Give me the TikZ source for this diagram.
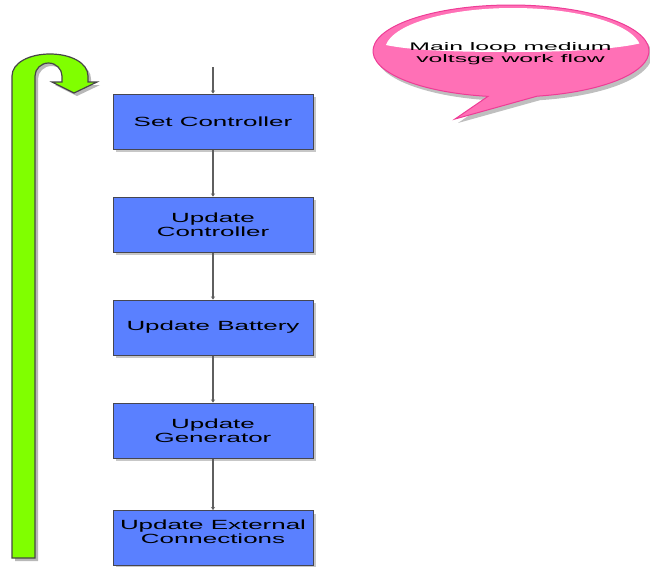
\documentclass[tikz,border=0pt]{standalone}
\usepackage{fontspec}
\setmainfont{Liberation Sans}
\newfontfamily\boxfont[FakeStretch=1.95]{Liberation Sans}
\newfontfamily\notefont[FakeStretch=2.25]{Liberation Sans}
\usetikzlibrary{arrows.meta,shadows}

\definecolor{boxblue}{RGB}{90,128,255}
\definecolor{boxedge}{RGB}{70,70,80}
\definecolor{linegray}{RGB}{95,95,95}
\definecolor{loopgreen}{RGB}{128,255,0}
\definecolor{loopedge}{RGB}{70,70,70}
\definecolor{notepink}{RGB}{255,112,182}
\definecolor{noteedge}{RGB}{238,60,150}

% U-turn arrow outline (image-style coordinates, y pointing down)
\def\uturnpath{(12,558) -- (12,76)
  .. controls (12,63) and (29,54) .. (50,54)
  .. controls (71,54) and (88,63) .. (88,76)
  -- (88,82) -- (97,82) -- (74,93) -- (52,82) -- (62,82) -- (62,76)
  .. controls (62,69) and (56,63) .. (48.5,63)
  .. controls (41,63) and (35,69) .. (35,76)
  -- (35,558) -- cycle}

% speech bubble outline, local coordinates with y pointing up
\def\bubblepath{(-56,-68) -- (260.4:138 and 46)
  arc[start angle=260.4, end angle=-79.1, x radius=138, y radius=46] -- cycle}

\begin{document}
\begin{tikzpicture}[x=1pt,y=-1pt,
  stepbox/.style={draw=boxedge, line width=1pt, fill=boxblue,
    minimum width=200pt, minimum height=55pt, inner sep=0pt,
    font=\boxfont\fontsize{13.3}{14}\selectfont, align=center,
    drop shadow={shadow xshift=3pt, shadow yshift=-3pt, fill=black!22, opacity=1}},
  boxtext/.style={inner sep=0pt, align=center, font=\boxfont\fontsize{13.3}{14}\selectfont},
  notetext/.style={inner sep=0pt, align=center, font=\notefont\fontsize{11}{12}\selectfont},
  flow/.style={draw=linegray, line width=1.3pt, -{Stealth[length=3pt,width=4pt]}},
]
\useasboundingbox (0,0) rectangle (650,566);

% green loop-back arrow
\fill[black!28, shift={(3,3)}] \uturnpath;
\filldraw[fill=loopgreen, draw=loopedge, line width=1.2pt] \uturnpath;

% process steps
\node[stepbox] (set)  at (213,121.5) {Set Controller};
\node[stepbox] (updc) at (213,224.5) {Update\\Controller};
\node[stepbox] (batt) at (213,327.5) {Update Battery};
\node[stepbox] (gen)  at (213,430.5) {Update\\Generator};
\node[stepbox] (ext)  at (213,538)   {};
\node[boxtext] (extlabel) at (213,531.5) {Update External\\Connections};

\coordinate (entry) at (213,67);
\draw[flow] (entry) -- (set.north);
\draw[flow] (set.south) -- (updc.north);
\draw[flow] (updc.south) -- (batt.north);
\draw[flow] (batt.south) -- (gen.north);
\draw[flow] (gen.south) -- (ext.north);

% speech bubble
\begin{scope}[shift={(511,51)}, y=1pt]
  \fill[black!25, shift={(3,-4)}] \bubblepath;
  \filldraw[fill=notepink, draw=noteedge, line width=1pt] \bubblepath;
\end{scope}
\begin{scope}
  \clip (513,50) ellipse [x radius=128, y radius=42];
  \fill[white] (370,0) -- (660,0) -- (660,36)
    .. controls (640,50) and (560,52) .. (512,52)
    .. controls (460,52) and (392,51) .. (370,40) -- cycle;
\end{scope}
\node[notetext, anchor=base] (note) at (510.5,62.7) {Main loop medium\\voltsge work flow};

\end{tikzpicture}
\end{document}
